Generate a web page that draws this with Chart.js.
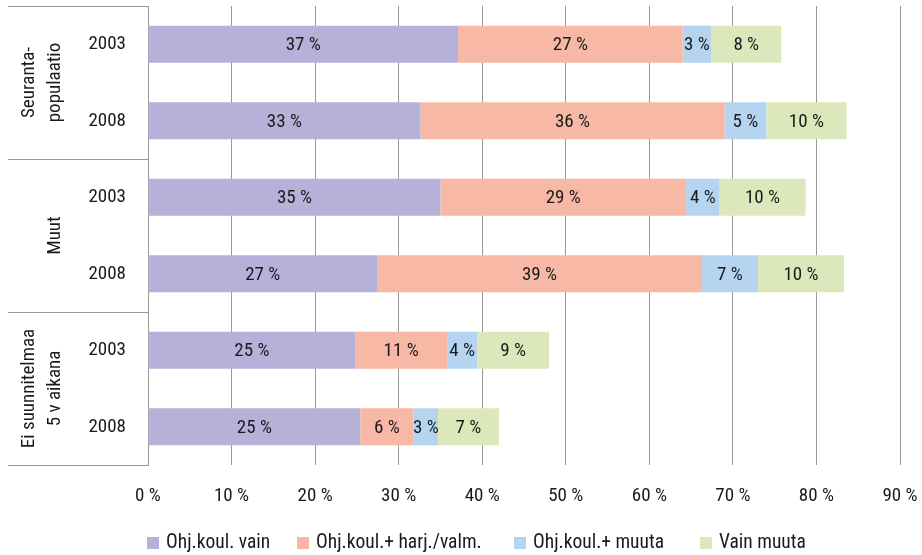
<!DOCTYPE html>
<html>
<head>
<meta charset="utf-8">
<script src="https://cdn.jsdelivr.net/npm/chart.js@4"></script>
<style>
  html, body { margin: 0; padding: 0; background: #fff; }
  #wrap { width: 922px; height: 555px; position: relative; }
</style>
</head>
<body>
<div id="wrap"><canvas id="chart"></canvas></div>
<script>
// Data
const years = ['2003', '2008', '2003', '2008', '2003', '2008'];
const groups = [['Seuranta-', 'populaatio'], ['Muut'], ['Ei suunnitelmaa', '5 v aikana']];
const seriesNames = ['Ohj.koul. vain', 'Ohj.koul.+ harj./valm.', 'Ohj.koul.+ muuta', 'Vain muuta'];
const ohjVain = [37.1, 32.6, 35.0, 27.4, 24.8, 25.4];
const ohjHarj = [26.9, 36.4, 29.4, 38.9, 11.0, 6.4];
const ohjMuuta = [3.4, 5.0, 4.0, 6.7, 3.6, 2.9];
const vainMuuta = [8.4, 9.6, 10.3, 10.3, 8.6, 7.3];
const xTicks = [0, 10, 20, 30, 40, 50, 60, 70, 80, 90];

// Colours
const PURPLE = '#b5b1d8';
const SALMON = '#f7b9a6';
const BLUE = '#b4d4f0';
const GREEN = '#dce8bc';
const LINE_GREY = '#999999';
const TEXT = '#1a1a1a';
const FONT = "'Roboto Condensed', 'Liberation Sans Narrow', sans-serif";

// Draws value labels in the middle of each segment
const segmentLabels = {
    id: 'segmentLabels',
    afterDatasetsDraw(chart) {
        const ctx = chart.ctx;
        ctx.save();
        ctx.font = '19px ' + FONT;
        ctx.fillStyle = TEXT;
        ctx.textAlign = 'center';
        ctx.textBaseline = 'middle';
        chart.data.datasets.forEach((ds, i) => {
            chart.getDatasetMeta(i).data.forEach((bar, j) => {
                const cx = (bar.x + bar.base) / 2;
                ctx.fillText(Math.round(ds.data[j]) + ' %', cx, bar.y + 1);
            });
        });
        ctx.restore();
    }
};

// Draws the group table on the left and the legend at the bottom
const sideTable = {
    id: 'sideTable',
    afterDraw(chart) {
        const ctx = chart.ctx;
        const area = chart.chartArea;
        const yScale = chart.scales.y;
        const step = (area.bottom - area.top) / years.length;
        ctx.save();
        ctx.strokeStyle = LINE_GREY;
        ctx.lineWidth = 1;
        for (let g = 0; g <= groups.length; g++) {
            const y = Math.round(area.top + g * step * 2) + 0.5;
            ctx.beginPath();
            ctx.moveTo(8, y);
            ctx.lineTo(area.left, y);
            ctx.stroke();
        }
        ctx.font = '19px ' + FONT;
        ctx.fillStyle = TEXT;
        ctx.textAlign = 'center';
        ctx.textBaseline = 'alphabetic';
        groups.forEach((lines, g) => {
            const cy = (yScale.getPixelForValue(g * 2) + yScale.getPixelForValue(g * 2 + 1)) / 2;
            lines.forEach((txt, k) => {
                const bx = 60 - (lines.length - 1 - k) * 26;
                ctx.save();
                ctx.translate(bx, cy);
                ctx.rotate(-Math.PI / 2);
                ctx.fillText(txt, 0, 0);
                ctx.restore();
            });
        });

        // legend
        const colors = [PURPLE, SALMON, BLUE, GREEN];
        const boxX = [147, 297, 514, 700];
        ctx.font = '19.5px ' + FONT;
        ctx.textAlign = 'left';
        ctx.textBaseline = 'middle';
        seriesNames.forEach((name, i) => {
            ctx.fillStyle = colors[i];
            ctx.fillRect(boxX[i], 537, 12, 12);
            ctx.fillStyle = TEXT;
            ctx.fillText(name, boxX[i] + 19, 543);
        });
        ctx.restore();
    }
};

function makeDataset(label, data, color) {
    return {
        label: label,
        data: data,
        backgroundColor: color,
        borderWidth: 0,
        categoryPercentage: 1.0,
        barPercentage: 0.485
    };
}

const chart = new Chart(document.getElementById('chart'), {
    type: 'bar',
    data: {
        labels: years,
        datasets: [
            makeDataset(seriesNames[0], ohjVain, PURPLE),
            makeDataset(seriesNames[1], ohjHarj, SALMON),
            makeDataset(seriesNames[2], ohjMuuta, BLUE),
            makeDataset(seriesNames[3], vainMuuta, GREEN)
        ]
    },
    plugins: [segmentLabels, sideTable],
    options: {
        indexAxis: 'y',
        responsive: true,
        maintainAspectRatio: false,
        animation: false,
        layout: { padding: { top: 6, right: 22, bottom: 50, left: 0 } },
        plugins: {
            legend: { display: false },
            tooltip: { enabled: false }
        },
        scales: {
            x: {
                stacked: true,
                min: 0,
                max: 90,
                afterBuildTicks(scale) {
                    scale.ticks = xTicks.map(v => ({ value: v }));
                },
                afterFit(scale) {
                    scale.height = 40;
                    scale.paddingLeft = 0;
                    scale.paddingRight = 0;
                },
                grid: { color: LINE_GREY, drawTicks: false },
                border: { display: false },
                ticks: {
                    padding: 20,
                    color: TEXT,
                    font: { family: FONT, size: 19 },
                    callback: v => v + ' %'
                }
            },
            y: {
                stacked: true,
                afterFit(scale) {
                    scale.width = 148;
                    scale.paddingTop = 0;
                    scale.paddingBottom = 0;
                },
                grid: { display: false, drawTicks: false },
                border: { display: true, color: LINE_GREY },
                ticks: {
                    padding: 22,
                    color: TEXT,
                    font: { family: FONT, size: 19 }
                }
            }
        }
    }
});
</script>
</body>
</html>
